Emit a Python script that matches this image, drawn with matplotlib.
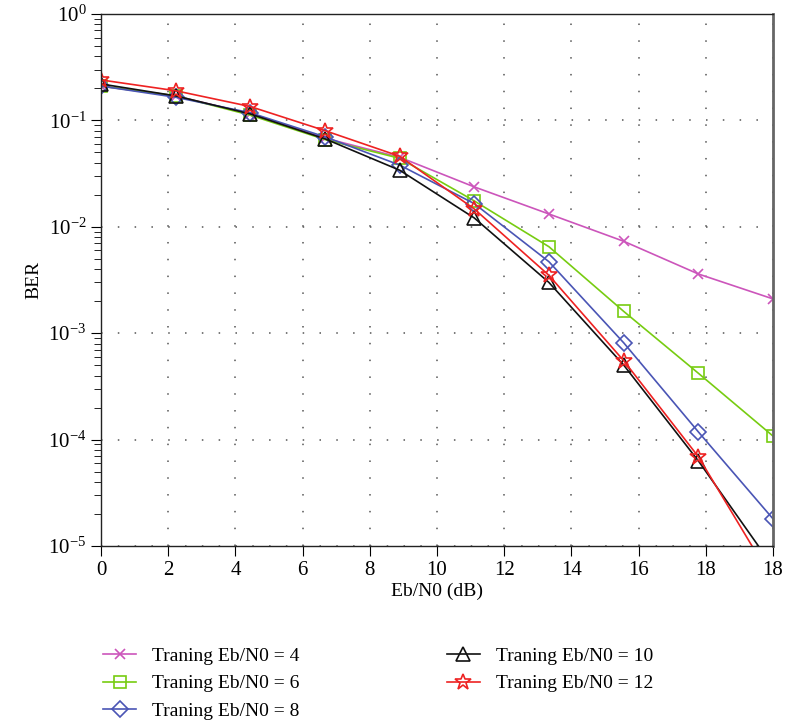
import numpy as np
import matplotlib
matplotlib.use('Agg')
import matplotlib.pyplot as plt

plt.rcParams['font.family'] = ['Liberation Serif', 'DejaVu Serif']
plt.rcParams['mathtext.fontset'] = 'stix'

# Eb/N0 positions (10 points from 0 to 20 dB)
ebn0 = [0, 2.22, 4.44, 6.67, 8.89, 11.11, 13.33, 15.56, 17.78, 20]
xtick_pos = [0, 2, 4, 6, 8, 10, 12, 14, 16, 18, 20]
xtick_lab = ['0', '2', '4', '6', '8', '10', '12', '14', '16', '18', '18']

ber_4 = [0.21, 0.17, 0.115, 0.068, 0.045, 0.0237, 0.0132, 0.0073, 0.0036, 0.0021]
ber_6 = [0.21, 0.17, 0.112, 0.066, 0.044, 0.0175, 0.0065, 0.0016, 0.00042, 0.000108]
ber_8 = [0.21, 0.165, 0.118, 0.070, 0.038, 0.0165, 0.0047, 0.00081, 0.000118, 1.8e-5]
ber_10 = [0.22, 0.17, 0.115, 0.067, 0.034, 0.0121, 0.0030, 0.0005, 6.3e-5, 6.4e-6]
ber_12 = [0.24, 0.19, 0.135, 0.080, 0.046, 0.0147, 0.0035, 0.00055, 6.9e-5, 4.7e-6]

fig = plt.figure(figsize=(7.85, 7.28), dpi=100)
ax = fig.add_axes([0.1287, 0.25, 0.856, 0.7308])

ax.plot(ebn0, ber_4, color='#cc55bb', marker='x', ms=7, lw=1.2, mew=1.2, mfc='none', label='Traning Eb/N0 = 4')
ax.plot(ebn0, ber_6, color='#77cc11', marker='s', ms=8, lw=1.2, mew=1.2, mfc='none', label='Traning Eb/N0 = 6')
ax.plot(ebn0, ber_8, color='#4a55b5', marker='D', ms=8, lw=1.2, mew=1.2, mfc='none', label='Traning Eb/N0 = 8')
ax.plot(ebn0, ber_10, color='#111111', marker='^', ms=10, lw=1.2, mew=1.2, mfc='none', label='Traning Eb/N0 = 10')
ax.plot(ebn0, ber_12, color='#ee2222', marker='*', ms=12, lw=1.2, mew=1.2, mfc='none', label='Traning Eb/N0 = 12')

ax.set_yscale('log')
ax.set_ylim(1e-5, 1)
ax.set_xlim(0, 20)
ax.set_xticks(xtick_pos)
ax.set_xticklabels(xtick_lab)
ax.grid(True, which='major', linestyle=(0, (1, 10)), color='#555555', lw=1.1)
ax.tick_params(axis='both', which='major', labelsize=15, direction='out', length=7, top=False, right=False)
ax.tick_params(axis='y', which='minor', direction='out', length=5, right=False)
for s in ['left', 'bottom', 'top']:
    ax.spines[s].set_color('#222222')
    ax.spines[s].set_linewidth(1.0)
ax.spines['right'].set_color('#666666')
ax.spines['right'].set_linewidth(2.0)

ax.set_xlabel('Eb/N0 (dB)', fontsize=14, labelpad=2)
ax.set_ylabel('BER', fontsize=14)

fig.legend(loc='upper left', bbox_to_anchor=(0.119, 0.124), ncol=2, frameon=False,
           fontsize=14, handlelength=1.7, handletextpad=0.8, columnspacing=7.6,
           labelspacing=0.5, borderpad=0)

fig.savefig('out.png', dpi=100)
